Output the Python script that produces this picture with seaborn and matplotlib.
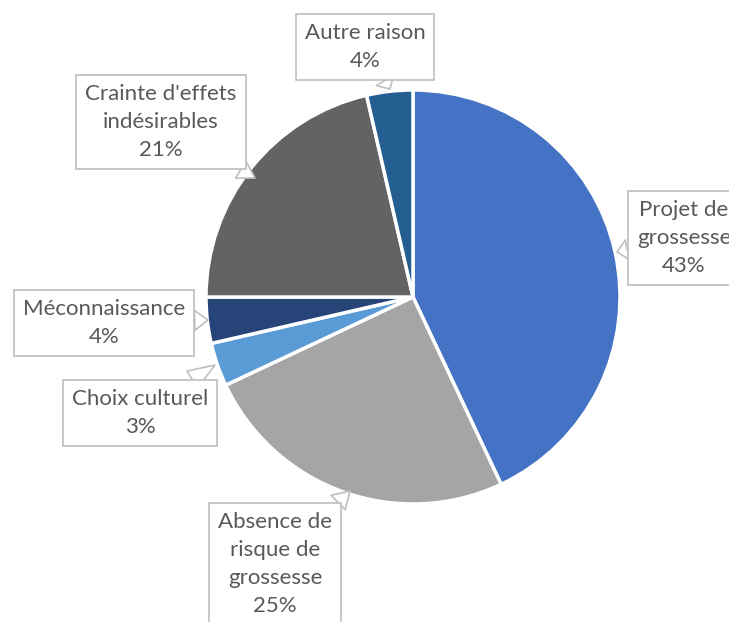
import matplotlib.pyplot as plt
import seaborn as sns

raisons = ["Projet de\ngrossesse", "Absence de\nrisque de\ngrossesse", "Choix culturel",
           "Méconnaissance", "Crainte d'effets\nindésirables", "Autre raison"]
pourcentages = [43.0, 25.0, 3.4, 3.6, 21.4, 3.6]
couleurs = ["#4472C4", "#A5A5A5", "#5B9BD5", "#264478", "#636363", "#255E91"]

# position des étiquettes (centre de la boîte) et pointe de la bulle, en pixels
pos_texte = [(684, 384), (275, 58), (140, 209), (104, 299), (161, 500), (365, 575)]
pos_pointe = [(617, 370), (350, 131), (215, 257), (208, 302), (255, 444), (390, 533)]

sns.set_theme(style="white")
plt.rcParams['font.family'] = ['Lato', 'DejaVu Sans']

fig = plt.figure(figsize=(7.29, 6.22), dpi=100)
ax = fig.add_axes([0, 0, 1, 1])

ax.pie(pourcentages, colors=couleurs, startangle=90, counterclock=False,
       center=(413, 325), radius=207,
       wedgeprops=dict(edgecolor="white", linewidth=2.5))

for nom, val, txt, pt in zip(raisons, pourcentages, pos_texte, pos_pointe):
    ax.annotate(f"{nom}\n{val:.0f}%", xy=pt, xytext=txt, ha="center", va="center",
                fontsize=16, color="#595959", linespacing=1.5,
                bbox=dict(boxstyle="square,pad=0.4", fc="white", ec="#BFBFBF", lw=1.2),
                arrowprops=dict(arrowstyle="wedge,tail_width=0.9", fc="white",
                                ec="#BFBFBF", lw=1.2, shrinkA=0, shrinkB=0))

ax.set_xlim(0, 729)
ax.set_ylim(0, 622)
ax.set_aspect("equal")
ax.axis("off")

plt.savefig("out.png", dpi=100)
print("✅ Graphique enregistré sous 'out.png'")
